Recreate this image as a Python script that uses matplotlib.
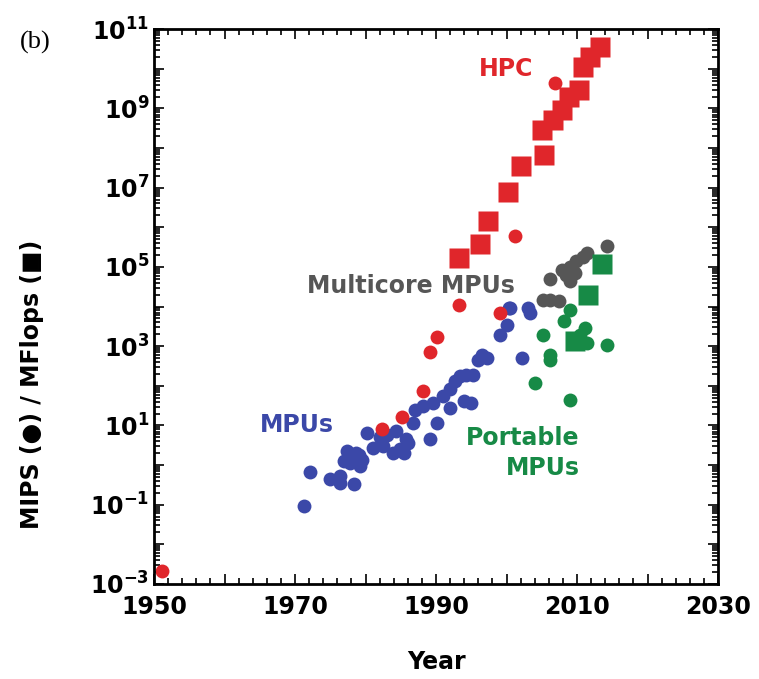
import numpy as np
import matplotlib
matplotlib.use("Agg")
import matplotlib.pyplot as plt
from matplotlib.ticker import MultipleLocator, LogLocator, FuncFormatter, NullFormatter

plt.rcParams['font.family'] = ['DejaVu Sans']
plt.rcParams['font.weight'] = 'bold'
plt.rcParams['mathtext.fontset'] = 'custom'
plt.rcParams['mathtext.rm'] = 'DejaVu Sans:bold'
plt.rcParams['mathtext.it'] = 'DejaVu Sans:bold'
plt.rcParams['mathtext.bf'] = 'DejaVu Sans:bold'
plt.rcParams['axes.unicode_minus'] = False

# HPC (red): MFlops squares, MIPS circles  -- values as log10
hpc_sq_year = [1993.2, 1996.2, 1997.4, 2000.2, 2002.1, 2005.3, 2005.1, 2006.6,
               2007.8, 2008.8, 2010.3, 2010.9, 2011.8, 2013.3]
hpc_sq_log = [5.22, 5.58, 6.15, 6.88, 7.55, 7.83, 8.46, 8.71,
              8.96, 9.29, 9.46, 10.05, 10.30, 10.55]
hpc_ci_year = [1951.1, 1982.3, 1985.2, 1988.2, 1989.1, 1990.1, 1993.2, 1999.1, 2001.2, 2006.9]
hpc_ci_log = [-2.68, 0.92, 1.22, 1.86, 2.85, 3.23, 4.05, 3.84, 5.77, 9.63]

# MPUs (blue) MIPS circles
mpu_year = [1971.2, 1972.1, 1975.0, 1976.4, 1977.8, 1977.3, 1978.7, 1979.2, 1978.3, 1976.4,
            1976.9, 1979.5, 1980.2, 1981.1, 1982.5, 1983.9, 1985.4, 1985.8, 1986.8, 1987.0,
            1982.0, 1984.9, 1983.0, 1984.3, 1986.0, 1978.0, 1979.0,
            1988.2, 1989.6, 1990.1, 1991.0, 1992.0, 1992.7, 1993.4, 1994.3, 1995.3, 1993.9,
            1995.0, 1992.0, 1989.1, 1996.0, 1997.2, 1996.5, 1999.1, 2000.0, 2000.3, 2002.2,
            2003.1, 2003.3, 2000.5]
mpu_log = [-1.03, -0.17, -0.36, -0.28, 0.06, 0.35, 0.31, -0.03, -0.49, -0.44,
           0.10, 0.14, 0.81, 0.44, 0.48, 0.31, 0.31, 0.65, 1.07, 1.40,
           0.70, 0.40, 0.75, 0.85, 0.55, 0.20, 0.25,
           1.49, 1.57, 1.07, 1.74, 1.91, 2.12, 2.24, 2.28, 2.28, 1.61,
           1.57, 1.45, 0.65, 2.66, 2.70, 2.79, 3.29, 3.54, 3.96, 2.70,
           3.96, 3.84, 3.96]

# Multicore MPUs (gray) MIPS circles
mc_year = [2005.2, 2006.2, 2007.4, 2006.2, 2007.8, 2009.0, 2009.0, 2009.9, 2010.9, 2011.4,
           2009.7, 2008.5, 2014.2]
mc_log = [4.17, 4.17, 4.13, 4.69, 4.93, 5.01, 4.64, 5.14, 5.26, 5.35,
          4.85, 4.80, 5.52]

# Portable MPUs (green): circles and squares
pm_ci_year = [2009.0, 2008.1, 2005.2, 2006.2, 2006.2, 2004.0, 2009.0, 2011.1, 2011.4, 2014.2, 2010.4]
pm_ci_log = [3.92, 3.63, 3.29, 2.79, 2.66, 2.07, 1.65, 3.46, 3.08, 3.04, 3.29]
pm_sq_year = [2009.7, 2011.6, 2013.5]
pm_sq_log = [3.12, 4.30, 5.08]

red = '#e0262b'
blue = '#3b48a8'
gray = '#565656'
green = '#178a46'

fig = plt.figure(figsize=(7.59, 6.79), dpi=100)
ax = fig.add_axes([0.203, 0.140, 0.743, 0.817])

ci = 10
sq = 14

def pw(v):
    return [10.0 ** x for x in v]

ax.plot(mpu_year, pw(mpu_log), 'o', ms=ci, color=blue, mec='none')
ax.plot(hpc_ci_year, pw(hpc_ci_log), 'o', ms=ci, color=red, mec='none')
ax.plot(mc_year, pw(mc_log), 'o', ms=ci, color=gray, mec='none')
ax.plot(pm_ci_year, pw(pm_ci_log), 'o', ms=ci, color=green, mec='none')
ax.plot(pm_sq_year, pw(pm_sq_log), 's', ms=sq, color=green, mec='none')
ax.plot(hpc_sq_year, pw(hpc_sq_log), 's', ms=sq, color=red, mec='none')

ax.set_xlim(1950, 2030)
ax.set_yscale('log')
ax.set_ylim(1e-3, 1e11)

ax.xaxis.set_major_locator(MultipleLocator(10))
ax.xaxis.set_minor_locator(MultipleLocator(2))
ax.xaxis.set_major_formatter(FuncFormatter(lambda v, p: '%d' % v if int(round(v)) % 20 == 10 else ''))

ax.yaxis.set_major_locator(LogLocator(base=10, numticks=20))
ax.yaxis.set_minor_locator(LogLocator(base=10, subs=np.arange(2, 10), numticks=20))
ax.yaxis.set_minor_formatter(NullFormatter())

def yfmt(v, p):
    e = int(round(np.log10(v)))
    if e % 2 == 0:
        return ''
    return r'$10^{%d}$' % e

ax.yaxis.set_major_formatter(FuncFormatter(yfmt))

ax.tick_params(which='both', direction='in', top=True, right=True, width=1.2, labelsize=17)
ax.tick_params(which='major', length=7)
ax.tick_params(which='minor', length=4)
ax.tick_params(axis='x', pad=8)
for s in ax.spines.values():
    s.set_linewidth(2)

ax.set_xlabel('Year', fontsize=17, fontweight='bold', labelpad=22)
ax.set_ylabel('MIPS (\u25cf) / MFlops (\u25a0)', fontsize=17, fontweight='bold')
ax.yaxis.set_label_coords(-0.195, 0.36)

ax.text(2000, 10 ** 10.0, 'HPC', color=red, fontsize=17, fontweight='bold', ha='center', va='center')
ax.text(1986.5, 10 ** 4.53, 'Multicore MPUs', color=gray, fontsize=17, fontweight='bold', ha='center', va='center')
ax.text(1970.3, 10 ** 1.0, 'MPUs', color=blue, fontsize=17, fontweight='bold', ha='center', va='center')
ax.text(2010.4, 10 ** 0.3, 'Portable\nMPUs', color=green, fontsize=17, fontweight='bold',
        ha='right', va='center', multialignment='right', linespacing=1.3)

fig.text(0.047, 0.938, '(b)', fontsize=19, fontweight='normal', family='Liberation Serif',
         ha='center', va='center')

fig.savefig('out.png', dpi=100)
